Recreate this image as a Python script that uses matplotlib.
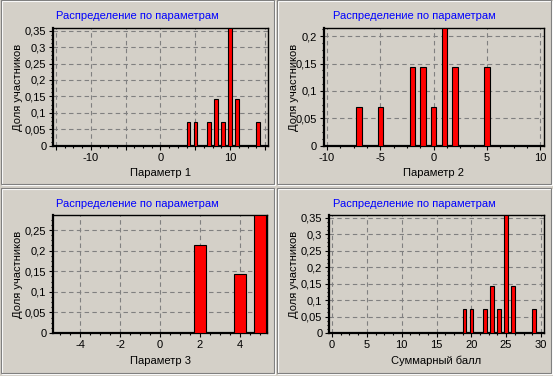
import matplotlib
matplotlib.use('Agg')
import matplotlib.pyplot as plt
from matplotlib.ticker import MultipleLocator, FuncFormatter
from matplotlib.patches import Rectangle

plt.rcParams['font.family'] = ['Liberation Sans', 'DejaVu Sans']
plt.rcParams['font.size'] = 8

# data (share of participants)
p1_x = [4, 5, 7, 8, 9, 10, 11, 14]
p1_y = [0.0714, 0.0714, 0.0714, 0.1429, 0.0714, 0.3571, 0.1429, 0.0714]
p2_x = [-7, -5, -2, -1, 0, 1, 2, 5]
p2_y = [0.0714, 0.0714, 0.1429, 0.1429, 0.0714, 0.2143, 0.1429, 0.1429]
p3_x = [2, 4, 5]
p3_y = [0.2143, 0.1429, 0.2857]
p4_x = [19, 20, 22, 23, 24, 25, 26, 29]
p4_y = [0.0714, 0.0714, 0.0714, 0.1429, 0.0714, 0.3571, 0.1429, 0.0714]

title = 'Распределение по параметрам'
ylabel = 'Доля участников'
xlabels = ['Параметр 1', 'Параметр 2', 'Параметр 3', 'Суммарный балл']

W, H = 553, 376
BG = '#d4d0c8'
fig = plt.figure(figsize=(W / 100, H / 100), dpi=100, facecolor=BG)


def fx(px):
    return px / W


def fy(py):
    return 1 - py / H


# etched panel frames
frames = [(1, 1, 274, 185), (277, 1, 551, 185), (1, 189, 274, 374), (277, 189, 551, 374)]
for x0, y0, x1, y1 in frames:
    fig.patches.append(Rectangle((fx(x0 + 1), fy(y1)), fx(x1 - x0), (y1 - y0) / H,
                                 transform=fig.transFigure, fill=False,
                                 edgecolor='white', lw=0.8))
    fig.patches.append(Rectangle((fx(x0), fy(y1 - 1)), fx(x1 - x0), (y1 - y0) / H,
                                 transform=fig.transFigure, fill=False,
                                 edgecolor='#808080', lw=0.8))


def dec(v, _):
    return ('%g' % round(v, 4)).replace('.', ',')


panels = [
    # data, axes box (l, r, top, bottom), xlim, ylim, xmajor, label step, ystep, bar width
    (p1_x, p1_y, (53.3, 267.7, 28.3, 145.7), (-15.4, 15.4), 0.3571, 5, 10, 0.5),
    (p2_x, p2_y, (323.7, 543.7, 28.3, 145.7), (-10.3, 10.3), 0.2143, 5, 5, 0.5),
    (p3_x, p3_y, (53.3, 266.7, 215.3, 333), (-5.35, 5.35), 0.2857, 2, 2, 0.58),
    (p4_x, p4_y, (329.3, 543.7, 215.3, 333), (-0.4, 30.4), 0.3571, 5, 5, 0.5),
]

for i, (xs, ys, box, xlim, ytop, xmaj, lstep, bw) in enumerate(panels):
    l, r, t, b = box
    ax = fig.add_axes([fx(l), fy(b), (r - l) / W, (b - t) / H])
    ax.set_facecolor(BG)
    ax.bar(xs, ys, width=bw, color='#ff0000', edgecolor='black', linewidth=0.8, zorder=3)
    ax.set_xlim(*xlim)
    ax.set_ylim(0, ytop)
    ax.xaxis.set_major_locator(MultipleLocator(xmaj))
    ax.xaxis.set_minor_locator(MultipleLocator(xmaj / 4))
    ax.yaxis.set_major_locator(MultipleLocator(0.05))
    ax.yaxis.set_minor_locator(MultipleLocator(0.0125))
    ax.xaxis.set_major_formatter(FuncFormatter(
        lambda v, _, s=lstep: ('%g' % v) if abs(round(v / s) * s - v) < 1e-6 else ''))
    ax.yaxis.set_major_formatter(FuncFormatter(dec))
    ax.grid(True, which='major', color='#808080', linestyle=(0, (4, 3)), linewidth=0.8)
    ax.set_axisbelow(True)
    ax.tick_params(which='major', direction='out', length=3, width=0.8, pad=2,
                   labelsize=8, colors='black')
    ax.tick_params(which='minor', direction='out', length=1.6, width=0.8)
    for side in ['left', 'bottom']:
        ax.spines[side].set_linewidth(1.6)
    for side in ['top', 'right']:
        ax.spines[side].set_linewidth(1.0)

    x0, y0, x1, y1 = frames[i]
    fig.text(fx((x0 + x1) / 2), fy(y0 + 15), title, color='#0000ff',
             ha='center', va='center', fontsize=8)
    fig.text(fx((l + r) / 2), fy(b + 27.5), xlabels[i], ha='center', va='center', fontsize=8)
    fig.text(fx(x0 + 17), fy((t + b) / 2), ylabel, rotation=90,
             ha='center', va='center', fontsize=8)

fig.savefig('out.png', dpi=100, facecolor=BG)
